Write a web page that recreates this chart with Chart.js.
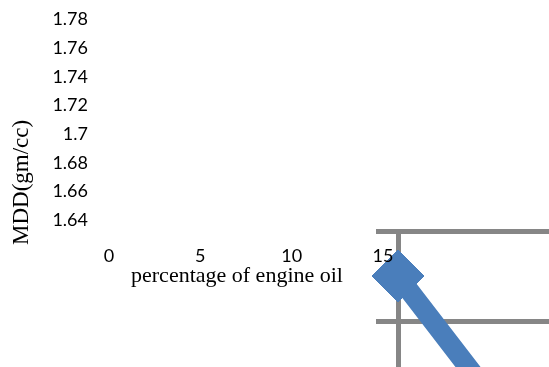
<!DOCTYPE html>
<html>
<head>
<meta charset="utf-8">
<script src="https://cdn.jsdelivr.net/npm/chart.js@4.4.0/dist/chart.umd.min.js"></script>
<style>
  html, body { margin: 0; padding: 0; background: #fff; }
  #stage { position: relative; width: 549px; height: 367px; overflow: hidden; background: #fff; }
  #detail { position: absolute; left: 358px; top: 221px; }
  #frame { position: absolute; left: 0; top: 0; }
</style>
</head>
<body>
<div id="stage">
  <canvas id="detail" width="881" height="650"></canvas>
  <canvas id="frame" width="549" height="367"></canvas>
</div>
<script>
// MDD (maximum dry density) against percentage of engine oil
const oilPercent = [0, 5, 10, 15];
const mdd = [1.77, 1.69, 1.66, 1.64];

// axis tick labels
const xTicks = [0, 5, 10, 15];
const yTicks = [1.64, 1.66, 1.68, 1.70, 1.72, 1.74, 1.76, 1.78];

const blue = '#4A7EBB';
const gridGrey = '#868686';
const tickFont = { family: 'Lato, "Open Sans", sans-serif', size: 18 };
const titleFontFamily = '"Liberation Serif", "Times New Roman", serif';

const fmt = v => String(+Number(v).toFixed(2));

// enlarged plot: gridlines, y axis line and the MDD series
new Chart(document.getElementById('detail'), {
  type: 'line',
  data: {
    datasets: [{
      data: oilPercent.map((x, i) => ({ x: x, y: mdd[i] })),
      borderColor: blue,
      backgroundColor: blue,
      borderWidth: 20,
      tension: 0,
      pointStyle: 'rectRot',
      pointRadius: 26,
      pointBorderWidth: 1,
      pointBackgroundColor: blue,
      pointBorderColor: blue,
      clip: false
    }]
  },
  options: {
    responsive: false,
    animation: false,
    devicePixelRatio: 1,
    layout: { autoPadding: false, padding: { left: 0, top: 10, right: 10, bottom: 10 } },
    plugins: { legend: { display: false }, tooltip: { enabled: false } },
    scales: {
      x: { type: 'linear', min: 0, max: 15, display: false },
      y: {
        min: 1.64, max: 1.78,
        afterBuildTicks: s => { s.ticks = yTicks.map(v => ({ value: v })); },
        afterFit: s => { s.width = 40; },
        ticks: { display: false },
        grid: { color: gridGrey, lineWidth: 5, tickLength: 22, drawTicks: true },
        border: { display: true, color: gridGrey, width: 5 }
      }
    }
  }
});

// axis labels and titles
new Chart(document.getElementById('frame'), {
  type: 'line',
  data: { datasets: [] },
  options: {
    responsive: false,
    animation: false,
    devicePixelRatio: 1,
    layout: { autoPadding: false, padding: { left: 0, top: 19.3, right: 166, bottom: 0 } },
    plugins: { legend: { display: false }, tooltip: { enabled: false } },
    scales: {
      x: {
        type: 'linear', position: 'bottom', min: -0.985, max: 15,
        afterBuildTicks: s => { s.ticks = xTicks.map(v => ({ value: v })); },
        afterFit: s => { s.height = 122; },
        grid: { display: false, drawTicks: false },
        border: { display: false },
        ticks: { padding: 0, font: tickFont, color: '#000', autoSkip: false, maxRotation: 0, callback: fmt },
        title: {
          display: true, text: 'percentage of engine oil', color: '#000',
          font: { family: titleFontFamily, size: 22 },
          padding: { top: 0, bottom: 77.8 }
        }
      },
      y: {
        type: 'linear', position: 'left', min: 1.6228, max: 1.78,
        afterBuildTicks: s => { s.ticks = yTicks.map(v => ({ value: v })); },
        afterFit: s => { s.width = 91; },
        grid: { display: false, drawTicks: false },
        border: { display: false },
        ticks: { padding: 3, font: tickFont, color: '#000', autoSkip: false, callback: fmt },
        title: {
          display: true, text: 'MDD(gm/cc)', align: 'start', color: '#000',
          font: { family: titleFontFamily, size: 23 },
          padding: { top: 8.2, bottom: 0 }
        }
      }
    }
  }
});
</script>
</body>
</html>
